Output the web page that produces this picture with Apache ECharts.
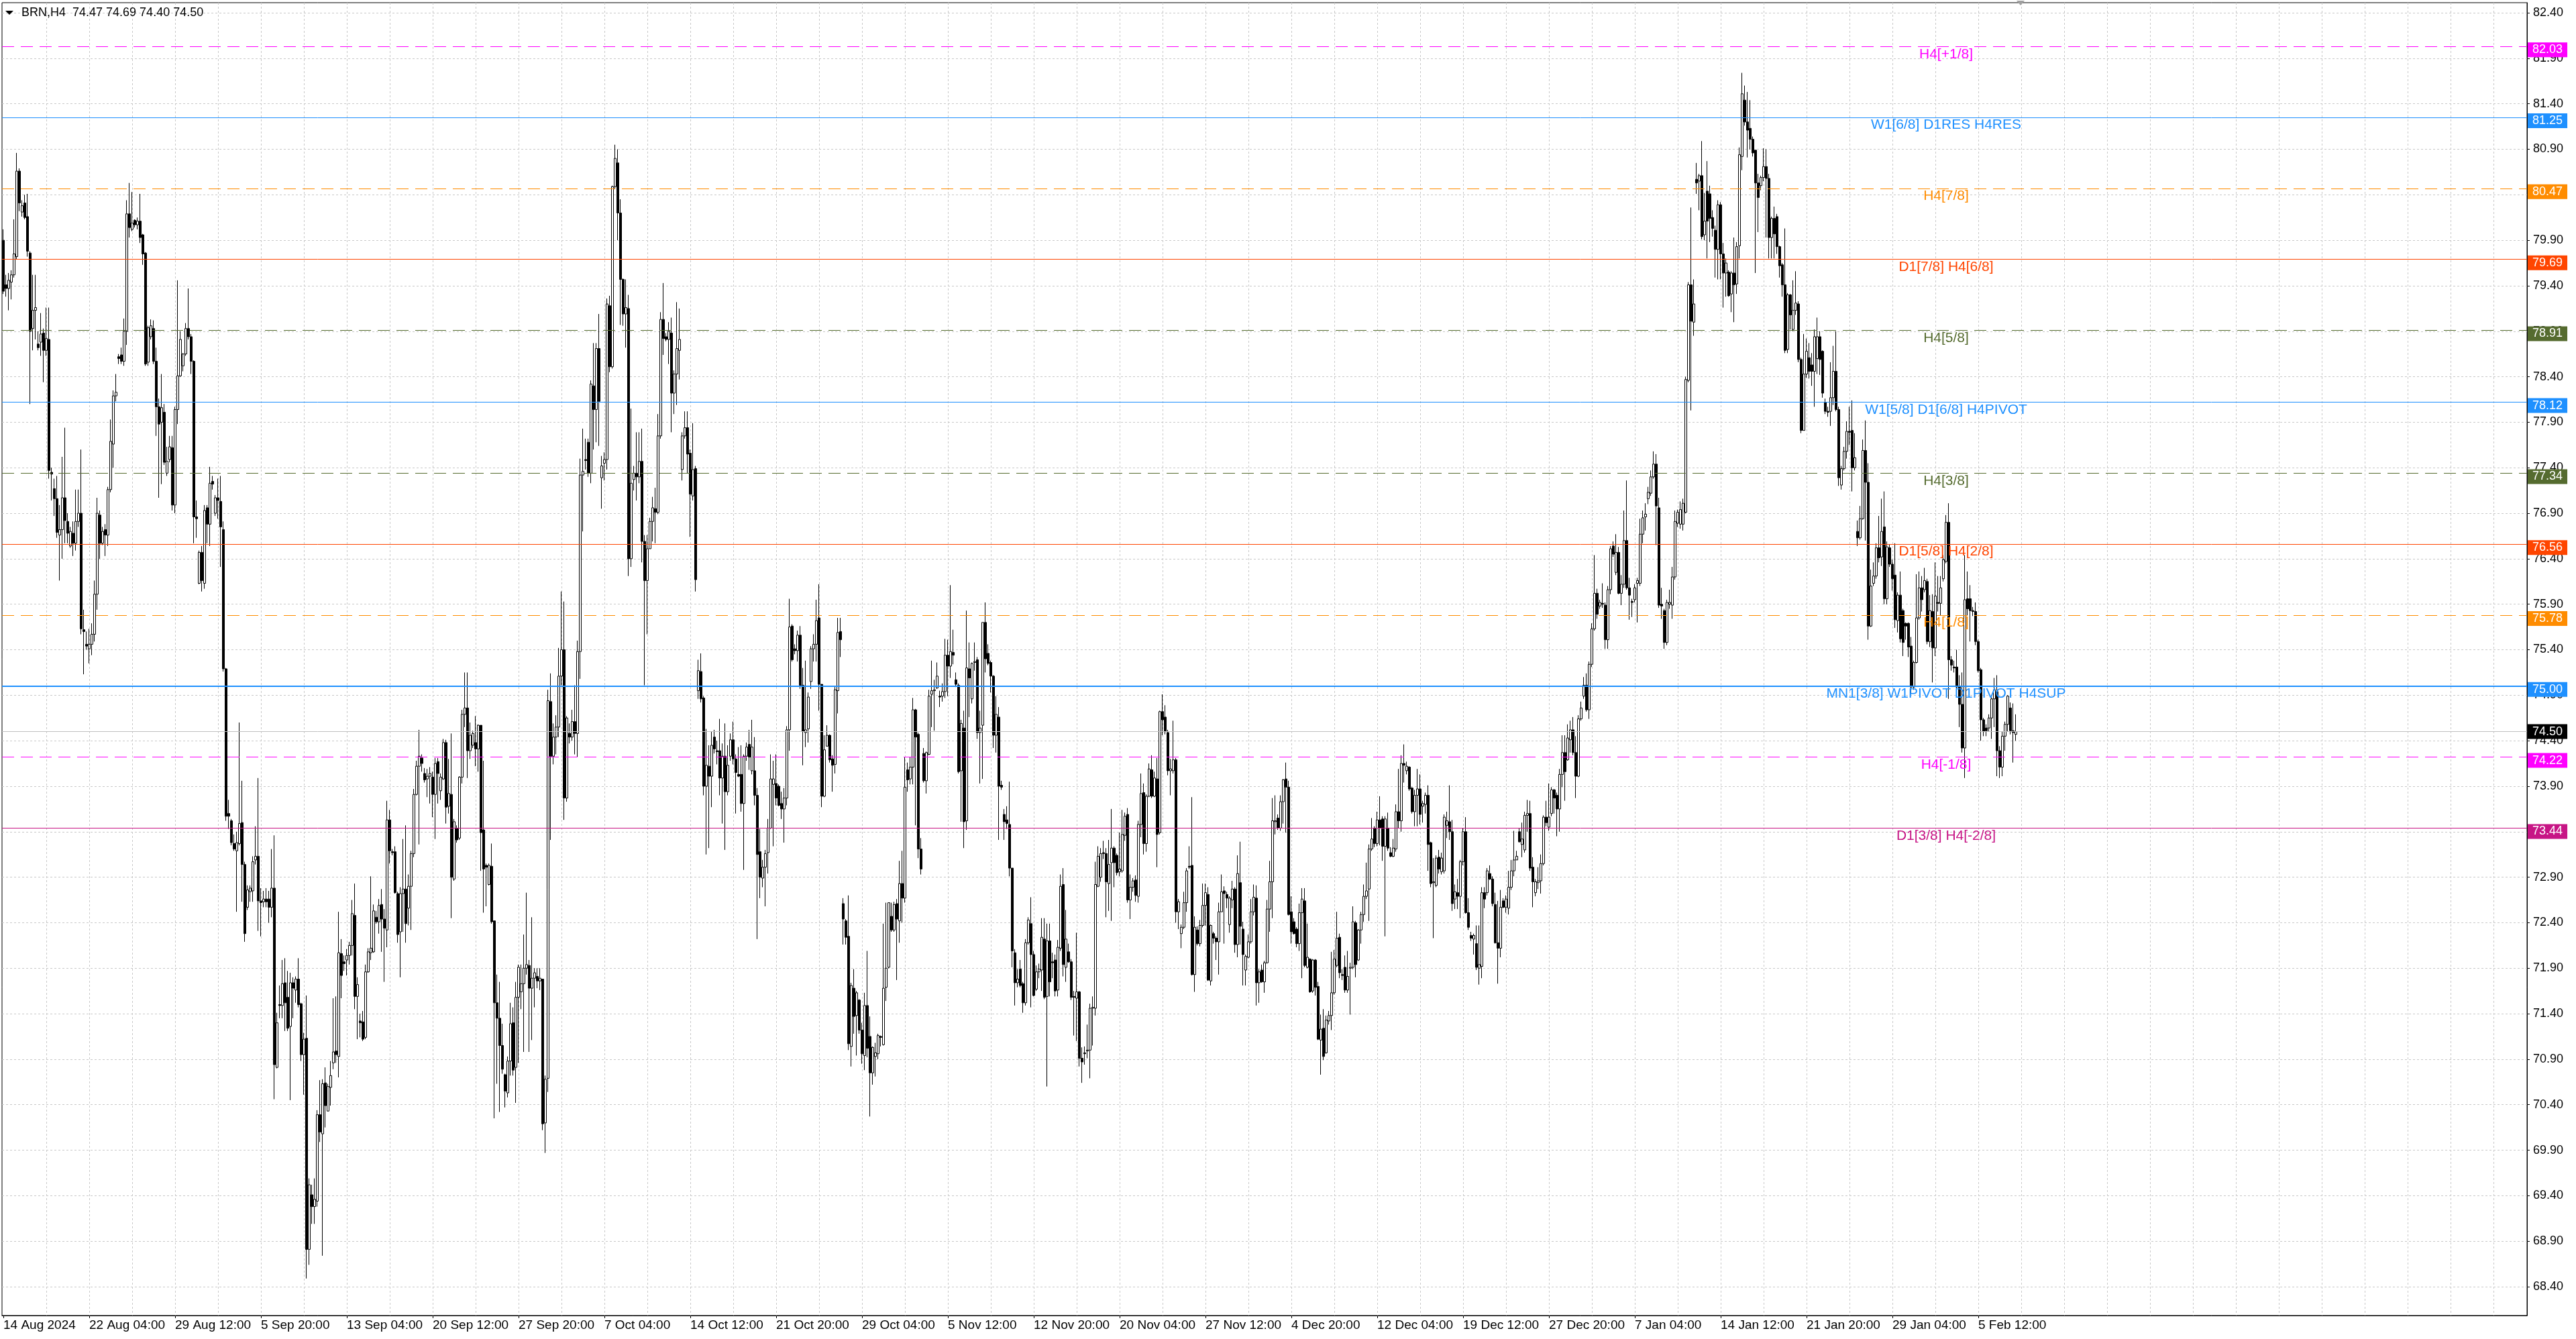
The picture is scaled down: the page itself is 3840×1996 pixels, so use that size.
<!DOCTYPE html>
<html><head><meta charset="utf-8">
<script src="https://cdn.jsdelivr.net/npm/echarts@6/dist/echarts.min.js"></script>
<style>html,body{margin:0;padding:0;background:#fff;overflow:hidden}#c{width:3840px;height:1996px}</style>
</head><body><div id="c"></div>
<script>
// ---------------- DATA ----------------
const SYMBOL = 'BRN', PERIOD = 'H4';
const opens = [
79.90,79.41,79.37,79.44,79.52,79.72,80.66,80.21,80.31,80.16,
79.76,78.93,79.13,78.76,78.78,78.88,78.69,78.81,77.35,77.17,
77.06,76.66,76.72,77.07,76.81,76.54,76.68,76.57,76.81,76.90,
75.62,75.46,75.41,75.46,75.57,76.01,76.88,76.57,76.72,76.66,
77.16,77.66,78.19,78.62,78.64,78.57,78.90,80.19,80.02,80.12,
80.07,80.11,79.96,79.76,78.56,78.84,78.93,78.57,78.07,77.90,
78.01,77.34,77.49,77.62,76.99,78.04,78.41,78.52,78.65,78.93,
78.84,78.57,76.86,76.13,76.47,76.13,76.96,76.78,77.25,76.90,
77.07,77.03,76.72,75.19,73.60,73.52,73.27,73.19,73.27,73.50,
73.04,72.57,72.74,72.75,73.09,73.13,72.64,72.63,72.66,72.66,
72.57,72.78,70.81,71.50,71.49,71.74,71.58,71.26,71.74,71.66,
71.78,71.51,70.95,71.13,68.81,69.41,69.28,69.34,70.29,70.08,
70.64,70.33,70.59,70.86,70.99,70.93,72.06,71.97,71.99,72.04,
72.15,72.48,71.59,71.32,71.31,71.14,71.86,72.07,72.08,72.46,
72.41,72.60,72.44,72.32,73.53,73.18,73.18,72.72,72.30,72.72,
72.77,72.56,72.80,73.16,73.81,74.12,74.21,74.04,73.98,74.01,
74.00,73.81,74.17,73.85,73.98,74.38,73.68,73.81,72.88,73.44,
73.33,74.00,74.69,74.76,74.29,74.35,74.38,74.31,74.57,73.42,
73.03,72.82,73.02,72.42,71.52,71.35,71.05,70.73,70.53,70.88,
71.30,70.81,71.58,71.64,71.73,71.90,71.93,71.68,71.79,71.81,
71.76,71.78,70.20,70.69,74.83,74.23,74.44,74.55,75.11,75.40,
73.77,74.48,74.44,74.61,74.48,75.38,77.32,77.49,77.68,77.34,
78.30,78.04,78.71,77.29,77.45,77.49,79.18,78.51,80.49,80.75,
80.20,79.47,79.09,79.15,76.40,77.27,77.34,77.30,77.47,76.59,
76.16,76.51,76.81,76.95,76.91,77.75,79.03,78.84,78.81,78.88,
78.22,78.43,78.69,77.38,77.75,77.84,77.56,77.09,77.39,74.95,
75.16,74.87,73.90,74.12,74.01,74.44,74.29,74.29,73.99,74.23,
73.84,74.23,74.41,74.20,74.03,74.03,73.71,74.23,74.36,74.07,
74.07,73.80,73.18,72.89,73.01,73.17,73.44,73.92,73.93,73.90,
73.71,73.65,73.77,74.52,75.66,75.41,75.39,75.56,75.01,74.49,
74.53,75.05,75.41,75.46,75.75,75.02,73.79,74.34,74.46,74.20,
74.14,74.95,75.60,72.61,72.42,72.25,71.04,71.68,71.38,71.55,
71.22,70.94,71.49,71.15,70.75,70.93,70.96,71.15,71.06,71.69,
71.91,72.47,72.32,72.61,72.42,72.83,72.67,74.08,73.98,74.11,
74.74,74.47,73.21,74.26,73.96,74.25,74.91,74.95,74.98,74.89,
74.89,74.94,75.34,75.22,75.37,75.07,75.01,74.07,74.54,73.52,
75.19,74.86,75.26,75.29,74.49,74.57,75.70,75.36,75.26,75.11,
74.46,74.66,73.91,73.59,73.53,73.48,73.00,72.07,71.74,71.89,
71.73,71.52,72.18,72.39,72.05,71.67,71.86,71.88,72.22,71.59,
72.20,71.97,71.99,71.66,72.12,72.82,71.91,72.08,71.97,71.59,
71.57,71.64,70.91,70.97,70.99,71.00,71.46,71.46,72.80,72.90,
73.17,73.16,72.83,73.06,73.22,73.14,72.96,72.97,73.36,73.59,
72.65,72.79,72.87,72.69,73.48,73.83,73.27,73.79,74.08,73.79,
73.98,73.39,74.72,74.66,74.49,74.07,74.07,74.19,72.52,72.28,
72.35,72.62,73.02,73.03,71.83,72.32,72.17,72.37,72.59,72.71,
71.76,72.28,72.23,72.19,72.52,72.75,72.71,72.38,72.65,72.77,
72.16,72.84,72.33,71.88,72.02,72.19,72.52,72.67,71.74,71.88,
71.75,71.96,72.55,72.85,73.51,73.55,73.44,73.73,73.98,73.89,
72.52,72.41,72.33,72.17,72.51,72.64,71.91,72.00,71.65,71.99,
71.70,71.11,71.24,70.97,71.32,71.38,71.63,71.93,72.24,71.83,
71.91,71.66,71.90,71.91,72.40,71.99,72.32,72.49,72.69,72.77,
73.21,73.44,73.27,73.53,73.54,73.24,73.44,73.17,73.13,73.21,
73.62,73.52,74.15,74.07,74.11,73.88,73.62,73.80,73.87,73.68,
73.70,73.80,73.28,72.84,72.81,73.12,72.96,72.97,73.47,73.51,
73.40,72.66,72.73,72.69,73.07,73.40,72.51,72.26,72.22,72.17,
71.90,71.92,72.73,72.73,72.94,72.88,72.60,72.18,72.12,72.64,
72.57,72.56,72.79,72.97,73.09,73.40,73.26,73.20,73.58,73.60,
73.01,72.73,72.84,72.86,73.05,73.56,73.45,73.60,73.86,73.80,
73.65,74.03,74.27,74.19,74.41,74.52,74.27,74.01,74.64,74.89,
75.01,74.74,75.24,75.63,76.02,75.88,75.91,75.89,75.51,76.06,
76.54,76.25,76.47,76.02,76.12,76.60,76.08,75.93,75.95,76.13,
76.13,76.67,76.86,77.06,77.12,77.30,77.44,76.96,75.90,75.83,
75.48,75.90,75.89,76.20,76.79,76.78,76.78,76.91,78.36,79.41,
79.00,80.57,80.55,80.61,79.96,80.44,80.41,80.15,80.01,79.80,
80.29,79.75,79.54,79.55,79.31,79.54,79.42,79.84,80.82,81.44,
81.20,81.13,81.01,80.89,80.53,80.50,80.59,80.71,80.58,79.93,
80.14,80.16,79.83,79.63,79.41,78.70,79.30,78.92,79.13,79.20,
78.59,77.81,78.43,78.61,78.53,78.46,78.60,78.84,78.68,78.12,
78.02,78.02,78.17,78.46,78.04,77.21,77.39,77.58,77.80,77.81,
77.40,76.70,76.63,76.84,77.59,77.24,75.66,76.13,76.21,76.52,
76.42,76.75,75.96,76.52,76.34,76.22,75.72,76.00,75.83,75.69,
75.69,75.44,74.99,75.26,75.75,76.08,76.06,76.15,75.49,75.82,
75.42,75.92,75.91,76.18,76.37,76.80,75.29,75.21,75.21,74.99,
74.80,74.32,75.96,75.96,75.83,75.82,75.49,75.18,74.63,74.54,
74.54,74.65,74.86,74.94,74.29,74.11,74.45,74.58,74.76,74.51,
74.47];
const highs = [
80.02,79.52,79.54,79.57,80.13,80.86,80.69,80.34,80.40,80.41,
79.78,79.52,79.52,78.90,79.10,78.93,79.16,79.16,77.40,77.28,
77.31,76.99,77.52,77.84,76.90,76.75,76.81,77.16,77.16,77.60,
75.84,75.60,75.63,75.69,76.16,77.07,76.93,76.75,76.78,77.19,
77.93,78.25,78.43,78.65,78.72,79.04,80.34,80.53,80.43,80.13,
80.15,80.41,79.97,79.77,78.96,79.03,79.02,78.72,78.16,78.43,
78.10,77.63,77.75,77.75,78.07,79.46,78.90,78.66,78.99,79.37,
78.87,78.58,77.04,76.49,76.54,76.99,76.99,77.41,77.31,77.10,
77.28,77.31,76.81,75.20,73.75,73.54,73.37,73.40,74.60,73.96,
73.07,72.81,72.81,73.13,73.46,73.99,72.78,72.75,72.78,72.75,
73.21,73.36,71.41,71.71,71.99,72.01,71.87,71.85,71.80,71.81,
72.01,71.52,71.19,71.60,69.59,69.52,69.59,70.34,70.67,70.68,
70.81,70.63,70.88,71.57,71.59,72.52,72.22,72.04,72.11,72.19,
72.65,72.83,71.80,71.40,71.43,71.94,72.12,72.91,72.60,72.53,
72.66,72.77,72.55,73.74,73.64,73.21,73.24,72.74,72.79,73.32,
73.47,72.93,73.19,73.87,74.18,74.52,74.25,74.10,74.09,74.11,
74.06,74.21,74.21,74.04,74.42,74.41,74.20,74.48,73.54,73.47,
74.01,74.74,75.15,75.15,74.60,74.51,74.67,74.58,74.57,74.18,
73.05,73.05,73.27,72.42,71.83,71.75,71.29,70.74,70.93,71.52,
71.47,71.75,71.94,71.94,72.27,72.73,71.99,72.46,71.90,71.90,
71.90,71.78,70.72,74.96,75.14,74.59,74.68,75.42,76.04,75.93,
74.67,74.59,74.74,75.01,75.50,77.50,77.83,77.72,77.72,78.36,
78.77,78.77,79.09,77.53,77.57,79.26,79.29,80.50,80.95,80.90,
80.35,79.48,79.47,79.30,78.05,77.42,77.79,77.79,77.83,76.66,
76.66,76.85,77.08,77.18,77.99,79.11,79.43,78.88,79.00,79.05,
78.47,79.22,79.15,77.79,78.02,78.02,77.60,77.89,77.42,75.29,
75.36,74.89,74.53,74.35,74.50,74.52,74.40,74.64,74.37,74.59,
74.35,74.48,74.61,74.25,74.33,74.35,74.25,74.38,74.52,74.63,
74.44,73.88,73.43,73.09,73.20,73.54,74.25,74.18,74.25,73.92,
73.84,73.88,74.56,75.96,75.68,75.46,75.61,75.66,75.20,75.28,
74.93,75.44,75.57,75.95,76.12,75.02,74.46,74.57,74.47,74.24,
74.99,75.75,75.75,72.67,72.44,72.70,71.74,71.89,71.65,71.56,
71.30,71.63,72.09,71.37,71.04,71.08,71.18,71.16,72.39,72.62,
72.62,72.62,72.63,72.66,73.08,73.19,74.22,74.16,74.22,74.87,
74.75,74.49,73.33,74.32,74.28,74.96,75.28,75.07,75.26,74.95,
75.03,75.52,75.51,76.11,75.62,75.15,75.03,74.63,74.73,75.83,
75.48,75.26,75.48,75.32,74.73,75.70,75.92,75.46,75.28,75.12,
74.89,74.77,73.96,73.65,73.68,73.95,73.00,72.11,71.89,71.99,
71.75,72.22,72.46,72.68,72.09,71.93,71.95,72.45,72.45,72.39,
72.39,72.07,72.05,72.21,72.93,73.00,72.54,72.17,72.00,71.65,
72.29,71.65,71.03,71.04,71.28,71.51,71.59,73.07,73.24,73.22,
73.30,73.22,73.31,73.65,73.24,73.16,73.39,73.64,73.61,73.66,
72.93,72.89,72.92,73.52,74.04,73.93,73.81,74.15,74.24,74.06,
74.21,74.73,74.91,74.79,74.52,74.20,74.62,74.21,72.66,72.38,
72.74,73.00,73.24,73.78,72.47,72.36,72.43,72.83,72.83,72.79,
72.38,72.30,72.25,72.62,72.93,72.80,72.74,72.69,72.86,72.79,
73.14,73.29,72.41,72.05,72.27,72.66,72.82,72.81,71.89,71.94,
71.98,72.65,73.08,73.77,73.80,73.59,73.80,73.98,74.16,73.96,
72.69,72.45,72.35,72.61,72.78,72.78,72.39,72.01,72.00,72.00,
71.75,71.39,71.45,71.38,71.43,72.08,72.10,72.52,72.28,71.89,
72.04,72.09,71.96,72.58,72.42,72.33,72.52,72.82,73.06,73.26,
73.55,73.46,73.62,73.79,73.57,73.57,73.61,73.23,73.32,73.70,
74.09,74.24,74.36,74.17,74.12,73.89,73.86,74.09,74.03,73.74,
73.83,73.91,73.29,73.11,73.14,73.20,73.17,73.59,73.62,73.91,
73.53,72.82,72.88,73.09,73.44,73.56,72.67,72.30,72.28,72.37,
72.37,72.79,72.79,73.00,73.03,72.91,72.73,72.64,72.76,72.67,
72.70,72.97,73.09,73.41,73.19,73.44,73.50,73.62,73.75,73.74,
73.12,72.88,73.01,73.15,73.58,73.74,73.93,73.89,73.87,73.83,
74.09,74.46,74.46,74.58,74.62,74.66,74.45,74.68,74.83,75.10,
75.14,75.27,75.69,76.44,76.07,75.95,76.13,75.92,76.10,76.54,
76.59,76.67,76.53,76.22,76.93,77.26,76.19,75.96,76.12,76.19,
76.84,76.93,77.01,77.19,77.37,77.58,77.55,77.07,76.08,75.85,
75.95,76.06,76.31,76.93,76.94,77.03,77.06,78.40,79.44,80.26,
79.47,80.75,80.63,80.99,80.42,80.77,80.50,80.23,80.06,80.34,
80.32,79.87,79.70,79.57,79.56,79.93,79.88,80.92,81.74,81.60,
81.53,81.44,81.04,80.89,80.63,80.61,80.91,80.90,80.63,80.16,
80.27,80.19,79.84,79.65,80.03,79.32,79.31,79.46,79.56,79.23,
78.61,78.87,78.82,78.77,78.66,78.92,79.05,78.90,78.69,78.16,
78.07,78.56,78.74,78.90,78.07,77.42,77.63,77.91,78.07,78.14,
77.78,76.82,76.98,77.71,77.92,77.45,76.28,76.36,76.57,76.87,
77.06,77.14,76.59,76.56,76.39,76.57,76.03,76.26,75.85,75.70,
75.70,75.54,75.28,76.23,76.26,76.21,76.30,76.18,76.00,76.01,
76.36,76.21,76.21,76.44,76.88,77.01,75.33,75.28,75.40,75.12,
75.15,76.44,76.26,76.11,75.87,75.92,75.51,75.20,74.65,74.58,
74.69,74.90,75.09,75.12,74.34,74.50,74.61,74.90,74.82,74.81,
74.69];
const lows = [
79.31,79.28,79.13,79.25,79.49,79.69,80.22,80.16,80.13,79.72,
78.10,78.69,78.81,78.69,78.63,78.34,78.63,77.28,77.04,76.87,
76.63,76.16,76.40,76.57,76.57,76.52,76.43,76.49,76.75,75.57,
75.13,75.40,75.25,75.34,75.49,75.84,76.40,76.55,76.43,76.54,
77.13,77.40,78.13,78.54,78.54,78.52,78.75,79.93,80.00,80.04,
80.02,79.87,79.63,78.52,78.52,78.81,78.54,77.75,77.07,77.22,
77.43,77.31,77.46,76.93,76.90,77.88,78.40,78.46,78.63,78.81,
78.43,76.57,76.63,76.12,76.04,76.07,76.57,76.54,77.16,76.87,
76.84,76.31,75.16,73.52,73.43,73.25,73.19,72.52,73.25,72.63,
72.19,72.54,72.63,72.63,73.04,72.31,72.25,72.57,72.57,72.40,
72.46,70.46,70.80,71.35,71.35,71.21,71.21,70.45,71.35,71.52,
71.47,70.88,70.51,68.49,68.64,69.09,69.09,69.28,69.99,68.74,
70.15,70.33,70.39,70.79,70.86,70.70,71.57,71.87,71.82,71.94,
72.04,71.45,71.12,71.14,71.10,71.12,71.85,71.99,72.07,72.39,
72.28,72.08,71.75,72.13,73.05,73.14,72.72,72.18,71.80,72.30,
72.18,72.37,72.32,73.12,73.80,73.26,74.06,73.94,73.78,73.71,
73.56,73.32,73.71,73.75,73.97,73.49,73.60,72.45,72.86,73.28,
73.31,73.93,74.55,73.99,74.20,74.32,74.12,74.06,72.97,72.51,
72.58,72.81,72.39,70.25,70.63,70.32,70.74,70.37,70.48,70.72,
70.72,70.42,70.86,71.45,70.98,71.83,70.98,71.11,71.47,71.68,
71.66,70.12,69.87,70.54,73.31,74.14,74.25,74.44,75.01,73.53,
73.73,74.37,74.40,74.25,74.22,75.08,76.70,77.38,77.30,77.23,
77.60,77.68,77.64,76.95,77.26,77.38,78.45,78.49,80.46,79.90,
78.97,78.96,78.72,76.21,76.31,77.15,77.04,77.23,76.36,75.01,
75.57,76.51,76.59,76.57,76.89,77.72,78.64,78.79,78.54,77.79,
77.99,78.09,78.37,77.26,77.72,77.34,76.64,77.04,76.04,74.86,
74.82,73.80,73.15,73.22,73.67,74.26,74.14,73.80,73.49,73.20,
73.80,74.18,74.14,73.60,74.00,73.62,72.98,74.18,74.08,74.03,
73.69,72.22,72.67,72.79,72.58,72.94,73.43,73.24,73.69,73.68,
73.54,73.28,73.69,74.29,75.27,75.35,75.27,74.97,74.13,74.33,
74.38,74.97,75.27,75.27,74.73,73.67,73.78,74.34,74.16,73.84,
74.04,74.70,75.32,72.16,72.16,71.00,70.82,71.18,70.94,71.18,
70.85,70.78,70.92,70.27,70.62,70.71,70.90,71.04,71.05,71.54,
71.90,72.30,72.30,71.77,72.18,72.40,72.62,73.84,73.92,73.92,
73.47,73.11,72.93,73.94,73.82,74.24,74.55,74.51,74.97,74.77,
74.83,74.87,74.89,75.09,75.24,74.99,74.04,73.51,73.22,73.42,
74.66,74.81,75.17,74.42,73.93,73.98,75.15,75.23,74.93,74.32,
74.27,73.31,73.86,73.31,73.43,72.91,71.91,71.49,71.69,71.69,
71.41,71.49,72.16,71.47,71.59,71.65,71.79,71.65,71.56,70.60,
71.59,71.79,71.59,71.59,72.09,71.81,71.75,71.96,71.55,71.16,
71.10,70.82,70.64,70.84,70.91,70.69,71.05,71.38,72.79,72.85,
73.10,72.46,72.53,72.42,72.79,72.92,72.91,72.95,73.30,72.62,
72.44,72.74,72.63,72.62,73.34,73.15,73.18,73.78,73.77,73.78,
73.01,73.37,74.46,74.47,74.02,73.80,74.04,72.40,72.33,72.12,
72.33,72.52,72.99,71.82,71.64,72.15,72.14,72.35,72.37,71.76,
71.71,72.17,71.99,71.83,72.52,72.17,72.56,72.29,72.56,72.07,
72.02,72.16,71.71,71.71,72.01,72.17,72.48,71.49,71.52,71.74,
71.63,71.95,72.30,72.45,73.37,73.42,73.41,73.49,73.39,72.48,
72.17,72.27,72.13,72.09,71.79,71.91,71.90,71.63,71.63,71.60,
71.11,70.73,70.89,70.96,71.28,71.22,71.61,71.91,71.79,71.77,
71.63,71.63,71.39,71.89,71.80,71.98,72.17,72.41,72.66,72.42,
73.19,73.23,73.24,73.25,73.08,72.25,73.19,73.12,73.12,73.18,
73.44,73.40,73.94,74.03,73.85,73.60,73.46,73.46,73.48,73.50,
73.60,72.97,72.79,72.23,72.79,72.94,72.93,72.94,73.33,73.31,
72.53,72.55,72.55,72.45,73.03,72.50,72.32,72.20,72.05,71.88,
71.72,71.79,72.56,72.70,72.87,72.58,72.17,71.73,72.02,72.56,
72.51,72.49,72.76,72.91,73.09,73.28,73.12,73.17,73.40,72.97,
72.57,72.69,72.77,72.72,73.03,73.46,73.41,73.57,73.60,73.35,
73.40,73.89,73.74,74.18,74.27,74.24,73.77,74.00,74.62,74.86,
74.72,74.64,75.21,75.61,75.74,75.85,75.86,75.41,75.41,76.01,
76.42,76.22,76.01,75.89,76.08,76.06,75.73,75.76,75.92,75.70,
76.10,76.57,76.71,77.00,77.09,77.28,76.55,75.86,75.74,75.41,
75.45,75.85,75.74,76.17,76.75,76.73,76.71,76.90,78.34,78.03,
78.85,80.41,80.23,79.91,79.90,79.70,79.88,79.94,79.49,79.47,
79.47,79.16,79.28,79.28,79.11,79.00,79.31,79.70,80.67,81.16,
80.81,80.90,80.82,79.54,79.99,80.45,80.55,79.93,79.70,79.70,
79.70,79.75,79.49,79.28,78.66,78.66,78.92,78.90,79.08,78.56,
77.78,77.81,78.39,78.38,78.30,78.07,78.43,78.42,78.17,77.99,
77.96,77.86,78.09,78.02,77.20,77.16,77.37,77.50,77.65,77.14,
77.37,76.54,76.61,76.83,76.60,75.51,75.65,76.10,76.18,76.36,
76.32,75.90,75.90,76.31,76.05,75.64,75.59,75.48,75.33,75.51,
75.32,74.91,74.96,75.25,75.73,75.82,76.03,75.46,75.43,75.04,
75.33,75.82,75.78,76.15,76.35,74.86,75.17,75.15,74.97,74.55,
74.27,73.99,75.78,75.49,75.77,75.45,75.15,74.40,74.45,74.45,
74.50,74.42,74.55,74.01,73.99,74.01,74.29,74.50,74.47,74.16,
74.40];
const closes = [
79.34,79.37,79.46,79.52,79.75,80.66,80.31,80.28,80.15,79.78,
78.90,79.13,79.16,78.72,78.87,78.69,78.82,77.37,77.33,77.06,
76.69,76.72,77.07,76.82,76.68,76.70,76.57,76.81,76.90,75.63,
75.60,75.44,75.46,75.57,76.01,76.90,76.57,76.70,76.66,77.16,
77.69,78.19,78.23,78.60,78.57,78.90,80.19,80.04,80.09,80.07,
80.11,79.93,79.75,78.54,78.94,78.96,78.57,78.07,77.88,78.06,
77.46,77.47,77.63,76.99,78.04,78.41,78.81,78.65,78.93,78.84,
78.57,76.86,76.84,76.47,76.16,76.93,76.78,77.23,77.22,77.07,
77.04,76.75,75.19,73.57,73.57,73.28,73.21,73.28,73.49,73.04,
72.28,72.76,72.78,73.07,73.13,72.64,72.62,72.66,72.63,72.57,
72.78,70.84,71.30,71.49,71.73,71.52,71.24,71.74,71.68,71.78,
71.50,70.95,71.12,68.81,69.52,69.28,69.36,70.29,70.10,70.63,
70.39,70.60,70.72,70.98,70.95,72.07,71.82,71.95,72.04,72.15,
72.50,71.59,71.72,71.30,71.12,71.86,72.08,72.12,72.53,72.41,
72.59,72.44,72.34,73.53,73.19,73.17,72.73,72.27,72.72,72.77,
72.39,72.80,73.16,73.81,74.12,74.23,74.15,73.97,74.01,74.04,
73.81,74.15,74.04,74.00,74.38,73.67,73.82,72.90,73.51,73.31,
74.00,74.69,74.76,74.29,74.46,74.48,74.31,74.57,73.39,72.99,
73.01,73.03,72.41,71.52,71.35,71.05,70.79,70.55,70.88,71.29,
70.78,71.58,71.91,71.73,71.90,71.94,71.68,71.79,71.85,71.76,
71.79,70.19,70.68,74.84,74.23,74.44,74.55,75.11,75.40,73.77,
74.65,74.44,74.61,74.48,75.38,77.32,77.36,77.48,77.34,78.32,
78.04,78.71,78.13,77.42,77.49,79.20,78.51,80.49,80.80,80.20,
79.47,79.09,79.16,76.40,77.23,77.34,77.30,77.47,76.59,76.16,
76.51,76.81,76.96,76.91,77.75,79.03,78.82,78.81,78.90,78.22,
78.43,78.71,78.81,77.75,77.84,77.55,77.11,77.38,76.17,75.17,
74.86,73.90,74.13,74.01,74.35,74.31,74.28,73.99,74.23,73.84,
74.13,74.41,74.20,74.05,74.01,73.71,74.23,74.33,74.22,74.33,
73.80,73.15,72.90,73.01,73.16,73.44,73.98,73.98,73.77,73.69,
73.65,73.77,74.52,75.65,75.29,75.39,75.56,75.01,74.50,74.52,
74.88,75.41,75.46,75.72,75.02,73.79,74.30,74.46,74.19,74.13,
74.96,75.59,75.51,72.44,72.24,71.07,71.71,71.37,71.63,71.22,
70.96,71.49,71.02,70.75,71.03,70.97,71.16,71.14,71.68,71.90,
72.62,72.32,72.60,72.44,72.83,72.67,73.89,73.97,74.11,74.74,
74.44,73.21,72.99,73.96,74.27,74.89,74.95,74.96,75.11,74.88,
74.94,75.34,75.22,75.38,75.34,75.02,74.06,74.59,73.51,75.20,
75.09,75.25,75.27,74.49,74.54,75.70,75.30,75.25,75.11,74.46,
74.69,73.90,73.89,73.51,73.49,73.00,72.09,71.74,71.78,71.71,
71.52,72.18,72.43,72.05,71.60,71.86,71.89,72.24,71.58,72.20,
71.75,71.96,71.65,72.13,72.80,71.94,72.22,71.97,71.58,71.58,
71.64,70.91,70.87,70.96,71.00,71.46,71.47,72.82,73.13,73.16,
73.16,72.85,73.04,73.22,73.06,72.95,72.99,73.37,73.57,72.65,
72.79,72.86,72.70,73.48,73.82,73.27,73.79,74.09,73.79,73.99,
73.37,74.72,74.63,74.50,74.07,74.09,74.19,72.52,72.63,72.35,
72.62,72.97,73.01,71.83,72.35,72.17,72.37,72.59,72.73,71.77,
72.37,72.23,72.19,72.52,72.74,72.72,72.67,72.67,72.77,72.16,
72.94,72.36,72.05,72.03,72.19,72.52,72.68,71.74,71.86,71.75,
71.96,72.55,72.85,73.52,73.52,73.44,73.73,73.97,73.89,72.49,
72.30,72.28,72.17,72.51,72.66,71.93,72.02,71.64,71.99,71.69,
71.12,71.23,70.93,71.33,71.38,71.63,72.00,72.23,71.85,71.82,
71.66,71.81,71.91,72.41,71.94,72.32,72.49,72.69,72.75,73.21,
73.32,73.27,73.53,73.44,73.24,73.54,73.22,73.13,73.22,73.62,
73.52,74.15,74.13,74.12,73.87,73.62,73.80,73.87,73.59,73.71,
73.80,73.26,72.83,72.85,73.11,72.99,73.11,73.56,73.52,73.40,
72.61,72.74,72.69,73.07,73.40,72.51,72.35,72.23,72.26,71.91,
71.94,72.73,72.66,72.97,72.88,72.61,72.18,72.12,72.57,72.57,
72.66,72.79,72.97,73.09,73.13,73.29,73.32,73.58,73.60,73.00,
72.85,72.85,72.86,73.05,73.56,73.50,73.56,73.86,73.77,73.65,
74.03,74.27,74.06,74.43,74.52,74.27,74.01,74.64,74.76,75.01,
74.74,75.24,75.63,76.02,75.79,75.92,75.90,75.51,76.06,76.51,
76.45,76.47,76.02,76.12,76.60,76.08,76.00,75.92,76.08,76.16,
76.67,76.85,76.89,77.13,77.30,77.44,76.98,75.89,75.88,75.48,
75.92,75.92,76.20,76.81,76.91,76.94,77.01,78.37,79.41,79.01,
79.20,80.53,80.61,79.94,80.11,80.11,80.14,80.03,79.80,80.29,
79.75,79.54,79.65,79.29,79.54,79.41,79.83,80.84,81.51,81.20,
81.11,81.01,80.86,80.53,80.37,80.59,80.71,80.58,79.93,80.14,
79.97,79.83,79.62,79.41,78.69,79.30,79.08,79.13,79.21,78.59,
77.81,78.43,78.68,78.46,78.46,78.84,78.84,78.59,78.22,78.02,
78.01,78.17,78.46,78.04,77.29,77.39,77.58,77.80,77.79,77.40,
77.51,76.63,76.84,77.59,77.24,75.66,76.10,76.21,76.52,76.41,
76.70,75.96,76.53,76.34,76.18,75.73,76.00,75.52,75.48,75.66,
75.43,74.99,75.26,75.75,76.08,75.95,76.16,75.49,75.83,75.42,
75.99,75.91,76.08,76.39,76.80,75.29,75.23,75.20,74.99,74.80,
74.32,75.95,75.85,75.83,75.82,75.49,75.17,74.63,74.50,74.51,
74.65,74.86,74.96,74.29,74.11,74.45,74.58,74.89,74.51,74.49,
74.50];
const timeLabels = ['14 Aug 2024','22 Aug 04:00','29 Aug 12:00','5 Sep 20:00','13 Sep 04:00','20 Sep 12:00',
  '27 Sep 20:00','7 Oct 04:00','14 Oct 12:00','21 Oct 20:00','29 Oct 04:00','5 Nov 12:00','12 Nov 20:00',
  '20 Nov 04:00','27 Nov 12:00','4 Dec 20:00','12 Dec 04:00','19 Dec 12:00','27 Dec 20:00','7 Jan 04:00',
  '14 Jan 12:00','21 Jan 20:00','29 Jan 04:00','5 Feb 12:00'];
const barsPerTimeLabel = 32;
const priceTicks = [68.40,68.90,69.40,69.90,70.40,70.90,71.40,71.90,72.40,72.90,73.40,73.90,74.40,74.90,
  75.40,75.90,76.40,76.90,77.40,77.90,78.40,78.90,79.40,79.90,80.40,80.90,81.40,81.90,82.40];
const levelValues = [82.03,81.25,80.47,79.69,78.91,78.12,77.34,76.56,75.78,75.00,74.22,73.44];
const levelNames = ['H4[+1/8]','W1[6/8] D1RES H4RES','H4[7/8]','D1[7/8] H4[6/8]','H4[5/8]',
  'W1[5/8] D1[6/8] H4PIVOT','H4[3/8]','D1[5/8] H4[2/8]','H4[1/8]','MN1[3/8] W1PIVOT D1PIVOT H4SUP',
  'H4[-1/8]','D1[3/8] H4[-2/8]'];

// ---------------- STYLE / LAYOUT ----------------
const levelColors = ['#ff00ff','#1e90ff','#ff8c00','#ff4500','#556b2f','#1e90ff','#556b2f','#ff4500','#ff8c00','#1e90ff','#ff00ff','#c71585'];
const levelDashed = [true,false,true,false,true,false,true,false,true,false,true,false];
const levelWidths = [1,1,1,1,1,1,1,1,1,2,1,1];
const TOTAL_SLOTS = 941;          // bars + right shift space
const LABEL_SLOT = 724;           // horizontal anchor of the level names
const FONT = '"Liberation Sans", Arial, sans-serif';
const GRID_COLOR = '#c8c8c8';

const nBars = closes.length;
const cats = [];
for (let i = 0; i < TOTAL_SLOTS; i++) cats.push(String(i));
const candles = [];
for (let i = 0; i < nBars; i++) {
  const o = opens[i], c = closes[i];
  candles.push([o, c, Math.min(lows[i], o, c), Math.max(highs[i], o, c)]);
}
const last = nBars - 1;
const lastClose = closes[last];
const header = `${SYMBOL},${PERIOD}  ${opens[last].toFixed(2)} ${highs[last].toFixed(2)} ${lows[last].toFixed(2)} ${lastClose.toFixed(2)}`;

const tagLabel = (bg, dy) => ({
  show: true, position: 'end', distance: 1, offset: [0, dy],
  formatter: p => Number(p.value).toFixed(2),
  color: '#fff', backgroundColor: bg, padding: [2, 7, 2, 7],
  fontSize: 18, lineHeight: 18, fontFamily: FONT
});

const markLineData = levelValues.map((v, k) => ({
  yAxis: v,
  lineStyle: { color: levelColors[k], width: levelWidths[k], type: levelDashed[k] ? [18, 10] : 'solid' },
  label: tagLabel(levelColors[k], 5)
}));
markLineData.push({
  yAxis: lastClose,
  lineStyle: { color: '#c0c0c0', width: 1, type: 'solid' },
  label: tagLabel('#000000', 0)
});

const markPointData = levelValues.map((v, k) => ({
  name: levelNames[k],
  coord: [String(LABEL_SLOT), v],
  label: { color: levelColors[k] }
}));

const isTimeLabel = i => i % barsPerTimeLabel === 0 && (i / barsPerTimeLabel) < timeLabels.length;

const chart = echarts.init(document.getElementById('c'), null, { renderer: 'canvas' });
chart.setOption({
  animation: false,
  backgroundColor: '#ffffff',
  textStyle: { fontFamily: FONT },
  grid: { left: 3, right: 73, top: 4, bottom: 35, show: true, borderColor: '#000', borderWidth: 1, backgroundColor: '#fff' },
  xAxis: {
    type: 'category', data: cats, boundaryGap: true,
    axisLine: { show: true, lineStyle: { color: '#000', width: 1 } },
    axisTick: { show: true, alignWithLabel: true, length: 4, interval: (i) => isTimeLabel(i), lineStyle: { color: '#000' } },
    axisLabel: {
      show: true, interval: (i) => isTimeLabel(i), align: 'left', margin: 5,
      formatter: (val, idx) => timeLabels[Math.round(idx / barsPerTimeLabel)] || '',
      color: '#000', fontSize: 19, fontFamily: FONT
    },
    splitLine: { show: true, alignWithLabel: true, interval: (i) => i > 0 && i % 16 === 0,
      lineStyle: { color: GRID_COLOR, type: [3, 3], width: 1 } }
  },
  yAxis: {
    type: 'value', position: 'right', min: 68.083, max: 82.511, scale: true,
    axisLine: { show: true, lineStyle: { color: '#000', width: 1 } },
    axisTick: { show: true, length: 4, customValues: priceTicks, lineStyle: { color: '#000' } },
    axisLabel: { show: true, customValues: priceTicks, formatter: v => Number(v).toFixed(2), margin: 9,
      color: '#000', fontSize: 18, fontFamily: FONT },
    splitLine: { show: true, lineStyle: { color: GRID_COLOR, type: [3, 3], width: 1 } }
  },
  series: [
    {
      type: 'line', data: [], z: 1, silent: true,
      markLine: { symbol: ['none', 'none'], silent: true, animation: false, data: markLineData },
      markPoint: {
        symbol: 'rect', symbolSize: [1, 1], silent: true, animation: false,
        itemStyle: { color: 'rgba(0,0,0,0)' },
        label: { show: true, position: 'bottom', distance: 0, formatter: '{b}', fontSize: 21, lineHeight: 22, fontFamily: FONT },
        data: markPointData
      }
    },
    {
      type: 'candlestick', data: candles, z: 3, large: false, barWidth: 3, silent: true,
      itemStyle: { color: '#ffffff', color0: '#000000', borderColor: '#000000', borderColor0: '#000000', borderWidth: 1 }
    }
  ],
  graphic: [
    { type: 'polygon', silent: true, shape: { points: [[8, 16], [20, 16], [14, 22]] }, style: { fill: '#000' }, z: 10 },
    { type: 'text', silent: true, x: 32, y: 19.5, style: { text: header, font: '18px ' + FONT, fill: '#000', verticalAlign: 'middle' }, z: 10 },
    { type: 'polygon', silent: true, shape: { points: [[3006, 1], [3018, 1], [3012, 8]] }, style: { fill: '#a0a0a0' }, z: 10 }
  ]
});
</script></body></html>
